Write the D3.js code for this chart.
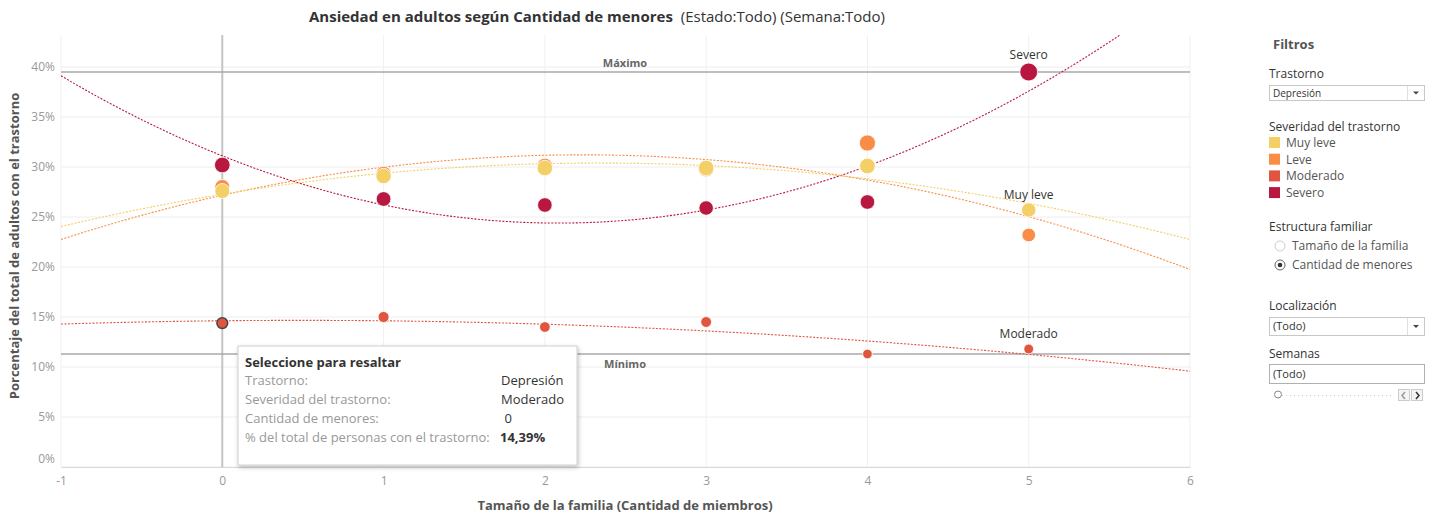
<!DOCTYPE html>
<html>
<head>
<meta charset="utf-8">
<title>Ansiedad en adultos</title>
<script src="https://d3js.org/d3.v7.min.js"></script>
<style>
  body { margin: 0; background: #fff; }
  svg { display: block; font-family: "Open Sans", Lato, sans-serif; }
</style>
</head>
<body>
<script>
// data
const miembros = [0, 1, 2, 3, 4, 5]
const severidades = ["Muy leve", "Leve", "Moderado", "Severo"]
const muyLeve = [27.6, 29.1, 29.9, 29.9, 30.1, 25.7]
const leve = [28.0, 29.3, 30.1, 29.8, 32.4, 23.2]
const moderado = [14.39, 15.0, 14.0, 14.5, 11.3, 11.8]
const severo = [30.2, 26.8, 26.2, 25.9, 26.5, 39.5]
const xTicks = [-1, 0, 1, 2, 3, 4, 5, 6]
const yTicks = [0, 5, 10, 15, 20, 25, 30, 35, 40]
const colores = ["#f3cf65", "#f98d48", "#e0553f", "#b8183f"]

const W = 1434, H = 514
const plot = {left: 61, right: 1190, top: 35, bottom: 467}

const svg = d3.select("body").append("svg").attr("width", W).attr("height", H)

const x = d3.scaleLinear().domain([-1, 6]).range([plot.left, plot.right])
const y = d3.scaleLinear().domain([0, 43.2]).range([plot.bottom, plot.top])
const r = d3.scaleSqrt().domain([0, 40]).range([0, 9])
const color = d3.scaleOrdinal().domain(severidades).range(colores)

const series = [
  {name: "Muy leve", values: muyLeve},
  {name: "Leve", values: leve},
  {name: "Moderado", values: moderado},
  {name: "Severo", values: severo}
]

// quadratic least squares trend
const fitQuad = (xs, ys) => {
  const n = xs.length
  const s = k => d3.sum(xs, v => Math.pow(v, k))
  const t = k => d3.sum(xs, (v, i) => Math.pow(v, k) * ys[i])
  const A = [[n, s(1), s(2)], [s(1), s(2), s(3)], [s(2), s(3), s(4)]]
  const b = [t(0), t(1), t(2)]
  for (let i = 0; i < 3; i++) {
    for (let j = i + 1; j < 3; j++) {
      const f = A[j][i] / A[i][i]
      for (let k = i; k < 3; k++) A[j][k] -= f * A[i][k]
      b[j] -= f * b[i]
    }
  }
  const c = [0, 0, 0]
  for (let i = 2; i >= 0; i--) {
    let acc = b[i]
    for (let k = i + 1; k < 3; k++) acc -= A[i][k] * c[k]
    c[i] = acc / A[i][i]
  }
  return v => c[0] + c[1] * v + c[2] * v * v
}

// title
const title = svg.append("text").attr("x", 597).attr("y", 22).attr("text-anchor", "middle")
  .attr("font-size", 15).attr("fill", "#333")
title.append("tspan").attr("font-weight", "bold").text("Ansiedad en adultos según Cantidad de menores ")
title.append("tspan").attr("dx", 4).text("(Estado:Todo) (Semana:Todo)")

// grid
const g = svg.append("g")
g.selectAll(".vgrid").data(xTicks).enter().append("line")
  .attr("x1", d => x(d)).attr("x2", d => x(d))
  .attr("y1", plot.top).attr("y2", plot.bottom)
  .attr("stroke", "#f0f0f0").attr("stroke-width", 1)
g.selectAll(".hgrid").data(yTicks).enter().append("line")
  .attr("x1", plot.left).attr("x2", plot.right)
  .attr("y1", d => y(d)).attr("y2", d => y(d))
  .attr("stroke", "#eeeeee").attr("stroke-width", 1)

// axes
const xAxis = svg.append("g").attr("transform", `translate(0,${plot.bottom})`)
  .call(d3.axisBottom(x).tickValues(xTicks).tickSize(0).tickPadding(9).tickFormat(d => String(d)))
xAxis.select(".domain").attr("stroke", "#d8d8d8")
xAxis.selectAll("text").attr("fill", "#999").attr("font-size", 12).attr("font-family", "'Open Sans', sans-serif")

const yAxis = svg.append("g").attr("transform", `translate(${plot.left},0)`)
  .call(d3.axisLeft(y).tickValues(yTicks).tickSize(0).tickPadding(6).tickFormat(d => d + "%"))
yAxis.select(".domain").remove()
yAxis.selectAll("text").attr("fill", "#999").attr("font-size", 12).attr("font-family", "'Open Sans', sans-serif")
  .attr("dy", d => d === 0 ? "-0.4em" : "0.32em")

svg.append("text").attr("transform", "translate(19,246) rotate(-90)").attr("text-anchor", "middle")
  .attr("font-size", 13).attr("font-weight", "bold").attr("fill", "#555")
  .text("Porcentaje del total de adultos con el trastorno")
svg.append("text").attr("x", 625).attr("y", 510).attr("text-anchor", "middle")
  .attr("font-size", 13).attr("font-weight", "bold").attr("fill", "#555")
  .text("Tamaño de la familia (Cantidad de miembros)")

// reference line at 0
svg.append("line").attr("x1", x(0)).attr("x2", x(0)).attr("y1", plot.top).attr("y2", plot.bottom)
  .attr("stroke", "#c4c4c4").attr("stroke-width", 2)

// max / min reference lines
const todos = series.flatMap(s => s.values)
const refs = [
  {label: "Máximo", v: d3.max(todos), dy: -5},
  {label: "Mínimo", v: d3.min(todos), dy: 14}
]
svg.selectAll(".ref").data(refs).enter().append("line")
  .attr("x1", plot.left).attr("x2", plot.right)
  .attr("y1", d => y(d.v)).attr("y2", d => y(d.v))
  .attr("stroke", "#a8a8a8").attr("stroke-width", 1.5)
svg.selectAll(".reflabel").data(refs).enter().append("text")
  .attr("x", 625).attr("y", d => y(d.v) + d.dy).attr("text-anchor", "middle")
  .attr("font-size", 11).attr("font-weight", "bold").attr("fill", "#666").text(d => d.label)

// trend lines
svg.append("clipPath").attr("id", "clip").append("rect")
  .attr("x", plot.left).attr("y", plot.top)
  .attr("width", plot.right - plot.left).attr("height", plot.bottom - plot.top)
const xs = d3.range(-1, 6.001, 0.05)
const line = d3.line().x(d => x(d[0])).y(d => y(d[1]))
const trendOrder = ["Severo", "Moderado", "Leve", "Muy leve"]
trendOrder.forEach(name => {
  const s = series.find(d => d.name === name)
  const f = fitQuad(miembros, s.values)
  svg.append("path").attr("clip-path", "url(#clip)")
    .attr("d", line(xs.map(v => [v, f(v)])))
    .attr("fill", "none").attr("stroke", color(name)).attr("stroke-width", 1.1)
    .attr("stroke-dasharray", "2,1.5")
})

// points
trendOrder.forEach(name => {
  const s = series.find(d => d.name === name)
  svg.selectAll(null).data(s.values).enter().append("circle")
    .attr("cx", (d, i) => x(miembros[i])).attr("cy", d => y(d))
    .attr("r", d => r(d))
    .attr("fill", color(name))
    .attr("stroke", (d, i) => name === "Moderado" && i === 0 ? "#444" : "#fff")
    .attr("stroke-width", (d, i) => name === "Moderado" && i === 0 ? 1.5 : 0.8)
})

// mark labels
const etiquetas = [
  {name: "Severo", i: 5, dy: -8},
  {name: "Muy leve", i: 5, dy: -8},
  {name: "Moderado", i: 5, dy: -10}
]
svg.selectAll(".mlabel").data(etiquetas).enter().append("text")
  .attr("x", d => x(miembros[d.i]))
  .attr("y", d => {
    const v = series.find(s => s.name === d.name).values[d.i]
    return y(v) - r(v) + d.dy + 4
  })
  .attr("text-anchor", "middle").attr("font-size", 12).attr("fill", "#333").text(d => d.name)

// tooltip
const defs = svg.append("defs")
const filt = defs.append("filter").attr("id", "sh").attr("x", "-10%").attr("y", "-10%")
  .attr("width", "130%").attr("height", "130%")
filt.append("feDropShadow").attr("dx", 1).attr("dy", 2).attr("stdDeviation", 2)
  .attr("flood-color", "#000").attr("flood-opacity", 0.25)
const tip = svg.append("g").attr("transform", "translate(238,346)")
tip.append("rect").attr("width", 339).attr("height", 119).attr("fill", "#fff")
  .attr("stroke", "#d0d0d0").attr("filter", "url(#sh)")
tip.append("text").attr("x", 7).attr("y", 21).attr("font-size", 13).attr("font-weight", "bold")
  .attr("fill", "#333").text("Seleccione para resaltar")
const filas = [
  ["Trastorno:", "Depresión"],
  ["Severidad del trastorno:", "Moderado"],
  ["Cantidad de menores:", " 0"],
  ["% del total de personas con el trastorno:", d3.format(".2f")(moderado[0]).replace(".", ",") + "%"]
]
filas.forEach((f, i) => {
  tip.append("text").attr("x", 7).attr("y", 39 + i * 19).attr("font-size", 13).attr("fill", "#999").text(f[0])
  tip.append("text").attr("x", i === 3 ? 262 : 263).attr("y", 39 + i * 19).attr("font-size", 13)
    .attr("fill", "#333").attr("font-weight", i === 3 ? "bold" : "normal")
    .attr("xml:space", "preserve").text(f[1])
})

// filter panel
const p = svg.append("g").attr("font-size", 12).attr("fill", "#333")
p.append("text").attr("x", 1273).attr("y", 49).attr("font-size", 13).attr("font-weight", "bold")
  .attr("fill", "#555").text("Filtros")
p.append("text").attr("x", 1269).attr("y", 78).attr("fill", "#333").text("Trastorno")
const dropdown = (yy, h, label) => {
  p.append("rect").attr("x", 1269.5).attr("y", yy + 0.5).attr("width", 155).attr("height", h)
    .attr("fill", "#fff").attr("stroke", "#c8c8c8")
  p.append("line").attr("x1", 1407.5).attr("x2", 1407.5).attr("y1", yy + 1).attr("y2", yy + h)
    .attr("stroke", "#e0e0e0")
  p.append("path").attr("d", `M1413,${yy + h / 2 - 1}l3,3l3,-3z`).attr("fill", "#444")
  p.append("text").attr("x", 1273).attr("y", yy + h / 2 + 4).attr("font-size", h > 16 ? 11 : 10)
    .attr("fill", "#333").text(label)
}
dropdown(85, 15, "Depresión")
p.append("text").attr("x", 1269).attr("y", 131).text("Severidad del trastorno")
severidades.forEach((s, i) => {
  p.append("rect").attr("x", 1269).attr("y", 137 + i * 16.7).attr("width", 11).attr("height", 11)
    .attr("fill", color(s))
  p.append("text").attr("x", 1286).attr("y", 147 + i * 16.7).attr("fill", "#555").text(s)
})
p.append("text").attr("x", 1269).attr("y", 231).text("Estructura familiar")
const radios = ["Tamaño de la familia", "Cantidad de menores"]
radios.forEach((s, i) => {
  p.append("circle").attr("cx", 1280).attr("cy", 246 + i * 19).attr("r", 5)
    .attr("fill", "#fff").attr("stroke", i === 1 ? "#666" : "#ccc")
  if (i === 1) p.append("circle").attr("cx", 1280).attr("cy", 265).attr("r", 2.3).attr("fill", "#333")
  p.append("text").attr("x", 1292).attr("y", 250 + i * 19).attr("fill", "#555").text(s)
})
p.append("text").attr("x", 1269).attr("y", 310).text("Localización")
dropdown(317, 18, "(Todo)")
p.append("text").attr("x", 1269).attr("y", 358).text("Semanas")
p.append("rect").attr("x", 1269.5).attr("y", 364.5).attr("width", 155).attr("height", 19)
  .attr("fill", "#fff").attr("stroke", "#b0b0b0")
p.append("text").attr("x", 1273).attr("y", 378).attr("font-size", 11).text("(Todo)")
p.append("line").attr("x1", 1282).attr("x2", 1393).attr("y1", 395.5).attr("y2", 395.5)
  .attr("stroke", "#ccc").attr("stroke-dasharray", "1,3")
p.append("circle").attr("cx", 1278).attr("cy", 394.5).attr("r", 3.5).attr("fill", "#fff").attr("stroke", "#888")
;[1398, 1411].forEach((bx, i) => {
  p.append("rect").attr("x", bx + 0.5).attr("y", 389.5).attr("width", 11).attr("height", 11)
    .attr("fill", "#f4f4f4").attr("stroke", "#ccc")
  p.append("path").attr("d", i === 0 ? `M${bx + 7},392l-3,3.5l3,3.5` : `M${bx + 5},392l3,3.5l-3,3.5`)
    .attr("fill", "none").attr("stroke", i === 0 ? "#999" : "#333").attr("stroke-width", 1.5)
})
</script>
</body>
</html>
